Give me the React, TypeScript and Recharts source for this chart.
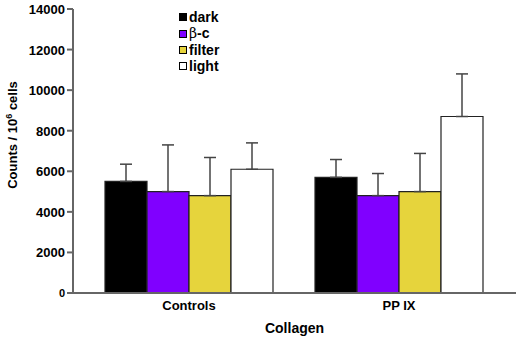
import React from "react";
import { BarChart, Bar, XAxis, YAxis, ErrorBar } from "recharts";

const categories = ["Controls", "PP IX"];
const seriesNames = ["dark", "β-c", "filter", "light"];
const seriesColors = ["#000000", "#8000ff", "#e6d43c", "#ffffff"];
const darkValues = [5500, 5700];
const betaValues = [5000, 4800];
const filterValues = [4800, 5000];
const lightValues = [6100, 8700];
const darkErrors = [850, 880];
const betaErrors = [2300, 1090];
const filterErrors = [1880, 1880];
const lightErrors = [1300, 2100];
const yTicks = [0, 2000, 4000, 6000, 8000, 10000, 12000, 14000];

const keys = ["dark", "beta", "filter", "light"];
const values = [darkValues, betaValues, filterValues, lightValues];
const errors = [darkErrors, betaErrors, filterErrors, lightErrors];

const data = categories.map((name, i) => {
  const row: any = { name };
  keys.forEach((k, s) => {
    row[k] = values[s][i];
    row[k + "Err"] = [0, errors[s][i]];
  });
  return row;
});

const font = "Arial, 'Liberation Sans', sans-serif";

function YTick(props: any) {
  const { x, y, payload } = props;
  const small = payload.value === 0;
  return (
    <text x={x} y={y} dy={small ? 4 : 5} textAnchor="end" fontFamily={font}
      fontWeight="bold" fontSize={small ? 11 : 13} fill="#000">
      {payload.value}
    </text>
  );
}

function YLabel() {
  return (
    <text transform="translate(17,135) rotate(-90)" textAnchor="middle"
      fontFamily={font} fontWeight="bold" fontSize={13} fill="#000">
      Counts / 10<tspan dy={-5} fontSize={9}>6</tspan><tspan dy={5}> cells</tspan>
    </text>
  );
}

function LegendBox() {
  return (
    <div style={{ position: "absolute", left: 179, top: 9, fontFamily: font, fontWeight: "bold", fontSize: 14, lineHeight: "16.4px" }}>
      {seriesNames.map((n, i) => (
        <div key={n} style={{ display: "flex", alignItems: "center" }}>
          <span style={{ width: 6, height: 6, background: seriesColors[i], border: "1px solid #000", marginRight: 2 }} />
          {n === "β-c" ? (
            <span><span style={{ fontWeight: "normal", fontFamily: "'DejaVu Serif', serif" }}>β</span>-c</span>
          ) : (
            <span>{n}</span>
          )}
        </div>
      ))}
    </div>
  );
}

export default function App() {
  return (
    <div style={{ position: "absolute", left: 0, top: 0, width: 516, height: 337, background: "#fff" }}>
      <BarChart width={516} height={337} data={data}
        margin={{ top: 9, right: 0, bottom: 0, left: 0 }}
        barCategoryGap="10%" barGap={0}>
        <XAxis dataKey="name" height={44} stroke="#666" strokeWidth={2} tickLine={false}
          padding={{ left: 11, right: 12 }}
          tick={{ fontFamily: font, fontWeight: "bold", fontSize: 13, fill: "#000" }}
          tickMargin={2}
          label={{ value: "Collagen", position: "insideBottom", offset: 4, fontFamily: font, fontWeight: "bold", fontSize: 14, fill: "#000" }} />
        <YAxis width={73} domain={[0, 14000]} ticks={yTicks} interval={0} stroke="#666" strokeWidth={2}
          tickSize={6} tickMargin={2} tick={<YTick />} label={{ content: () => <YLabel /> }} />
        {keys.map((k, i) => (
          <Bar key={k} dataKey={k} name={seriesNames[i]} fill={seriesColors[i]} stroke="#222" strokeWidth={1.2}
            isAnimationActive={false}>
            <ErrorBar dataKey={k + "Err"} direction="y" width={6} stroke="#444" strokeWidth={1.5} />
          </Bar>
        ))}
      </BarChart>
      <LegendBox />
    </div>
  );
}
